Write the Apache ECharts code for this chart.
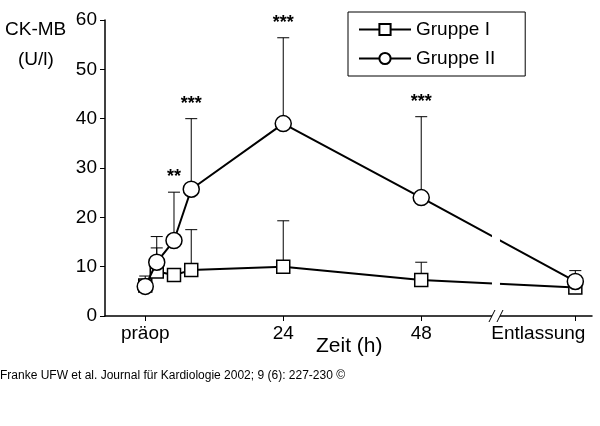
<!DOCTYPE html>
<html><head><meta charset="utf-8">
<script src="https://cdn.jsdelivr.net/npm/echarts@6/dist/echarts.min.js"></script>
<style>body{margin:0;background:#fff}#c{width:600px;height:426px}</style>
</head><body><div id="c"></div>
<script>
// Zeitpunkte in Stunden (Entlassung hinter dem Achsenbruch)
var hours = [0, 2, 5, 8, 24, 48, 74.8];
var gruppe1 = [6.2, 9.0, 8.3, 9.3, 10.0, 7.3, 5.8];
var gruppe1Err = [8.1, 13.8, null, 17.5, 19.3, 10.9, null];
var gruppe2 = [6.0, 10.9, 15.3, 25.7, 39.0, 24.0, 7.0];
var gruppe2Err = [null, 16.1, 25.1, 40.0, 56.4, 40.4, 9.2];
var stars = [null, null, '**', '***', '***', '***', null];
var tickHours = [0, 24, 48, 74.8];
var tickLabels = ['präop', '24', '48', 'Entlassung'];

var font = 'Liberation Sans, Arial, sans-serif';
var myChart = echarts.init(document.getElementById('c'));

function pairs(vals) {
	return vals.map(function(v, i) { return [hours[i], v]; });
}
function errData(vals, errs) {
	var out = [];
	errs.forEach(function(e, i) { if (e != null) out.push([hours[i], vals[i], e]); });
	return out;
}
function errSeries(vals, errs) {
	return {
		type: 'custom', silent: true, z: 1,
		data: errData(vals, errs),
		renderItem: function(params, api) {
			var p = api.coord([api.value(0), api.value(1)]);
			var t = api.coord([api.value(0), api.value(2)]);
			var st = { stroke: '#000', lineWidth: 1 };
			return { type: 'group', children: [
				{ type: 'line', shape: { x1: p[0], y1: p[1], x2: t[0], y2: t[1] }, style: st },
				{ type: 'line', shape: { x1: t[0] - 6, y1: t[1], x2: t[0] + 6, y2: t[1] }, style: st }
			] };
		}
	};
}
var starData = [];
stars.forEach(function(s, i) { if (s) starData.push([hours[i], gruppe2Err[i], s]); });

var option = {
	animation: false,
	grid: { left: 105, right: 8, top: 20, bottom: 110 },
	legend: {
		orient: 'vertical', left: 348, top: 12, width: 180,
		borderColor: '#000', borderWidth: 1, padding: [8, 30, 8, 10], itemGap: 10,
		itemWidth: 52, itemHeight: 14,
		textStyle: { fontFamily: font, fontSize: 19, color: '#000' },
		data: ['Gruppe I', 'Gruppe II']
	},
	xAxis: {
		type: 'value', min: -7, max: 77.7,
		splitLine: { show: false },
		axisLine: { onZero: false, lineStyle: { color: '#000', width: 1.5 } },
		axisTick: { customValues: tickHours, length: 5, lineStyle: { color: '#000' } },
		axisLabel: {
			customValues: tickHours, color: '#000', fontFamily: font, fontSize: 19, margin: 8,
			formatter: function(v) {
				var i = tickHours.indexOf(v);
				if (i === 3) return '{e|' + tickLabels[i] + '}';
				return tickLabels[i];
			},
			rich: { e: { fontFamily: font, fontSize: 19, color: '#000', padding: [0, 74, 0, 0] } }
		}
	},
	yAxis: {
		type: 'value', min: 0, max: 60, interval: 10,
		splitLine: { show: false },
		axisLine: { show: true, onZero: false, lineStyle: { color: '#000', width: 1.5 } },
		axisTick: { show: true, length: 5, lineStyle: { color: '#000' } },
		axisLabel: { color: '#000', fontFamily: font, fontSize: 19, margin: 8 }
	},
	series: [
		errSeries(gruppe1, gruppe1Err),
		errSeries(gruppe2, gruppe2Err),
		{
			name: 'Gruppe I', type: 'line', data: pairs(gruppe1), z: 3,
			symbol: 'rect', symbolSize: 13,
			lineStyle: { color: '#000', width: 2 },
			itemStyle: { color: '#fff', borderColor: '#000', borderWidth: 1.5 }
		},
		{
			name: 'Gruppe II', type: 'line', data: pairs(gruppe2), z: 4,
			symbol: 'circle', symbolSize: 16,
			lineStyle: { color: '#000', width: 2 },
			itemStyle: { color: '#fff', borderColor: '#000', borderWidth: 1.5 }
		},
		{
			type: 'custom', silent: true, z: 5, data: starData,
			renderItem: function(params, api) {
				var t = api.coord([api.value(0), api.value(1)]);
				return { type: 'text', x: t[0], y: t[1] - 6,
					style: { text: starData[params.dataIndex][2], fill: '#000',
						font: 'bold 18px ' + font, align: 'center', verticalAlign: 'bottom' } };
			}
		}
	],
	graphic: [
		{ type: 'text', left: 5, top: 20, style: { text: 'CK-MB', fill: '#000', font: '19px ' + font } },
		{ type: 'text', left: 18, top: 50, style: { text: '(U/l)', fill: '#000', font: '19px ' + font } },
		{ type: 'text', left: 316, top: 336, style: { text: 'Zeit (h)', fill: '#000', font: '21px ' + font } },
		{ type: 'text', left: 0, top: 370, style: { text: 'Franke UFW et al. Journal für Kardiologie 2002; 9 (6): 227-230 ©', fill: '#000', font: '12px ' + font } }
	]
};
myChart.setOption(option);

// Achsenbruch zwischen 48 h und Entlassung
var bx = myChart.convertToPixel({ xAxisIndex: 0 }, 61);
var by = myChart.convertToPixel({ yAxisIndex: 0 }, 0);
myChart.setOption({ graphic: option.graphic.concat([
	{ type: 'rect', z: 100, shape: { x: bx - 4, y: by - 100, width: 8, height: by - (by - 104) }, style: { fill: '#fff' } },
	{ type: 'line', z: 101, shape: { x1: bx - 7, y1: by + 6, x2: bx - 1, y2: by - 6 }, style: { stroke: '#000', lineWidth: 1 } },
	{ type: 'line', z: 101, shape: { x1: bx + 1, y1: by + 6, x2: bx + 7, y2: by - 6 }, style: { stroke: '#000', lineWidth: 1 } }
]) });
</script>
</body></html>
